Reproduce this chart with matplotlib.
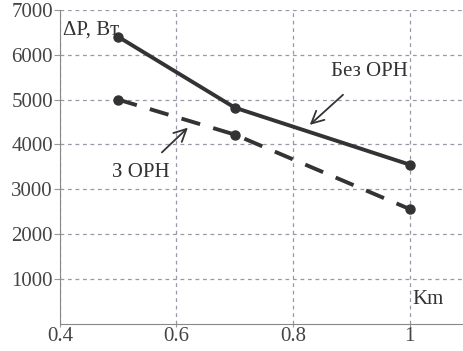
import matplotlib
matplotlib.use('Agg')
import matplotlib.pyplot as plt

plt.rcParams['font.family'] = ['Liberation Serif', 'DejaVu Serif']

# дані з графіка
km = [0.5, 0.7, 1.0]
dp_bez_orn = [6400, 4820, 3550]
dp_z_orn = [5000, 4220, 2560]
yticks = [1000, 2000, 3000, 4000, 5000, 6000, 7000]
xticks = [0.4, 0.6, 0.8, 1.0]
xtick_labels = ['0.4', '0.6', '0.8', '1']

fig = plt.figure(figsize=(4.64, 3.51), dpi=100)
ax = fig.add_axes([0.129, 0.077, 0.871, 0.895])

ax.plot(km, dp_bez_orn, color='#333333', lw=2.8, marker='o', ms=6.5)
ax.plot(km, dp_z_orn, color='#333333', lw=2.8, ls=(0, (5, 3.5)), marker='o', ms=6.5)

ax.set_xlim(0.4, 1.093)
ax.set_ylim(0, 7000)
ax.set_xticks(xticks)
ax.set_xticklabels(xtick_labels)
ax.set_yticks(yticks)
ax.grid(True, ls=(0, (3, 3)), color='#9a98a8', lw=0.9)
ax.tick_params(labelsize=15, labelcolor='#444444', color='#999999', length=4, pad=1)
ax.tick_params(axis='x', length=2, pad=0)
for s in ['top', 'right']:
    ax.spines[s].set_visible(False)
for s in ['left', 'bottom']:
    ax.spines[s].set_color('#888888')

ax.text(0.405, 6560, 'ΔP, Вт', fontsize=15, color='#333333', va='center', ha='left')
ax.text(1.005, 553, 'Km', fontsize=15, color='#333333', va='center', ha='left')

ax.annotate('Без ОРН', xy=(0.825, 4395), xytext=(0.930, 5630), fontsize=15,
            color='#333333', ha='center', va='center',
            arrowprops=dict(arrowstyle='->', color='#333333', lw=1.3,
                            mutation_scale=22, shrinkA=12))
ax.annotate('З ОРН', xy=(0.623, 4417), xytext=(0.539, 3379), fontsize=15,
            color='#333333', ha='center', va='center',
            arrowprops=dict(arrowstyle='->', color='#333333', lw=1.3,
                            mutation_scale=22, shrinkA=8))

fig.savefig('out.png', dpi=100)
